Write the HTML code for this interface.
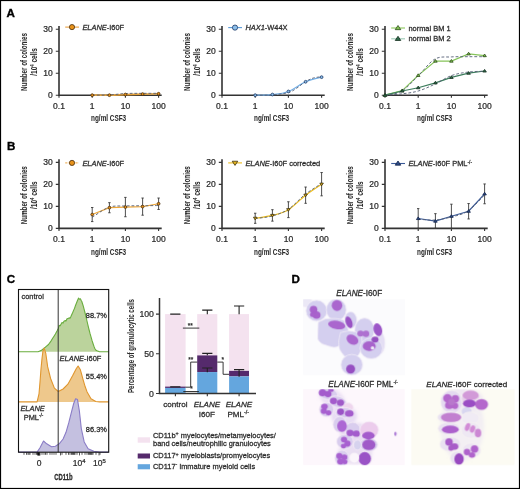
<!DOCTYPE html><html><head><meta charset="utf-8"><style>html,body{margin:0;padding:0;background:#fff}svg{display:block;will-change:transform}.t{font-family:"Liberation Sans", sans-serif;font-size:8.5px;fill:#2b2b2b;stroke:#2b2b2b;stroke-width:0.24px}.c{font-family:"Liberation Sans", sans-serif;font-size:8.9px;font-weight:bold;fill:#2b2b2b;stroke:#2b2b2b;stroke-width:0.05px}.l{font-family:"Liberation Sans", sans-serif;font-size:7.45px;fill:#2b2b2b;stroke:#2b2b2b;stroke-width:0.26px}.p{font-family:"Liberation Sans", sans-serif;font-size:11.6px;font-weight:bold;fill:#000;stroke:#000;stroke-width:0.35px}</style></head><body>
<svg width="520" height="489" viewBox="0 0 520 489">
<defs><filter id="bl" x="-20%" y="-20%" width="140%" height="140%"><feGaussianBlur stdDeviation="0.55"/></filter><filter id="bl2" x="-20%" y="-20%" width="140%" height="140%"><feGaussianBlur stdDeviation="1.4"/></filter></defs>
<rect x="0" y="0" width="520" height="489" fill="#fff"/>
<text x="6.6" y="16.9" class="p">A</text>
<text x="6.9" y="149.8" class="p">B</text>
<text x="6.8" y="283.3" class="p">C</text>
<text x="291.6" y="283.2" class="p">D</text>
<path d="M59,26 V95.2 H161.7" fill="none" stroke="#333333" stroke-width="1.6"/>
<path d="M55.8,95.2 H59 M55.8,73.2 H59 M55.8,51.2 H59 M55.8,29.2 H59 M59,95.2 V97.8 M92.2,95.2 V97.8 M125.4,95.2 V97.8 M158.6,95.2 V97.8 " stroke="#333333" stroke-width="1.1" fill="none"/>
<text x="52.8" y="97.9" text-anchor="end" class="t">0</text>
<text x="52.8" y="75.9" text-anchor="end" class="t">10</text>
<text x="52.8" y="53.9" text-anchor="end" class="t">20</text>
<text x="52.8" y="31.9" text-anchor="end" class="t">30</text>
<text x="59" y="109.2" text-anchor="middle" class="t">0.1</text>
<text x="92.2" y="109.2" text-anchor="middle" class="t">1</text>
<text x="125.4" y="109.2" text-anchor="middle" class="t">10</text>
<text x="158.6" y="109.2" text-anchor="middle" class="t">100</text>
<text x="108.6" y="121.4" text-anchor="middle" class="c" textLength="35" lengthAdjust="spacingAndGlyphs">ng/ml CSF3</text>
<text transform="translate(26.7,62) rotate(-90)" text-anchor="middle" class="c" textLength="58" lengthAdjust="spacingAndGlyphs">Number of colonies</text>
<text transform="translate(37.3,62) rotate(-90)" text-anchor="middle" class="c" textLength="27.5" lengthAdjust="spacingAndGlyphs"><tspan>/10</tspan><tspan dy="-2.9" font-size="5.8">4</tspan><tspan dy="2.9"> cells</tspan></text>
<path d="M59,159.2 V228.4 H161.7" fill="none" stroke="#333333" stroke-width="1.6"/>
<path d="M55.8,228.4 H59 M55.8,206.4 H59 M55.8,184.4 H59 M55.8,162.4 H59 M59,228.4 V231 M92.2,228.4 V231 M125.4,228.4 V231 M158.6,228.4 V231 " stroke="#333333" stroke-width="1.1" fill="none"/>
<text x="52.8" y="231.1" text-anchor="end" class="t">0</text>
<text x="52.8" y="209.1" text-anchor="end" class="t">10</text>
<text x="52.8" y="187.1" text-anchor="end" class="t">20</text>
<text x="52.8" y="165.1" text-anchor="end" class="t">30</text>
<text x="59" y="242.4" text-anchor="middle" class="t">0.1</text>
<text x="92.2" y="242.4" text-anchor="middle" class="t">1</text>
<text x="125.4" y="242.4" text-anchor="middle" class="t">10</text>
<text x="158.6" y="242.4" text-anchor="middle" class="t">100</text>
<text x="108.6" y="254.6" text-anchor="middle" class="c" textLength="35" lengthAdjust="spacingAndGlyphs">ng/ml CSF3</text>
<text transform="translate(26.7,195.2) rotate(-90)" text-anchor="middle" class="c" textLength="58" lengthAdjust="spacingAndGlyphs">Number of colonies</text>
<text transform="translate(37.3,195.2) rotate(-90)" text-anchor="middle" class="c" textLength="27.5" lengthAdjust="spacingAndGlyphs"><tspan>/10</tspan><tspan dy="-2.9" font-size="5.8">4</tspan><tspan dy="2.9"> cells</tspan></text>
<path d="M222,26 V95.2 H324.7" fill="none" stroke="#333333" stroke-width="1.6"/>
<path d="M218.8,95.2 H222 M218.8,73.2 H222 M218.8,51.2 H222 M218.8,29.2 H222 M222,95.2 V97.8 M255.2,95.2 V97.8 M288.4,95.2 V97.8 M321.6,95.2 V97.8 " stroke="#333333" stroke-width="1.1" fill="none"/>
<text x="215.8" y="97.9" text-anchor="end" class="t">0</text>
<text x="215.8" y="75.9" text-anchor="end" class="t">10</text>
<text x="215.8" y="53.9" text-anchor="end" class="t">20</text>
<text x="215.8" y="31.9" text-anchor="end" class="t">30</text>
<text x="222" y="109.2" text-anchor="middle" class="t">0.1</text>
<text x="255.2" y="109.2" text-anchor="middle" class="t">1</text>
<text x="288.4" y="109.2" text-anchor="middle" class="t">10</text>
<text x="321.6" y="109.2" text-anchor="middle" class="t">100</text>
<text x="271.6" y="121.4" text-anchor="middle" class="c" textLength="35" lengthAdjust="spacingAndGlyphs">ng/ml CSF3</text>
<text transform="translate(189.7,62) rotate(-90)" text-anchor="middle" class="c" textLength="58" lengthAdjust="spacingAndGlyphs">Number of colonies</text>
<text transform="translate(200.3,62) rotate(-90)" text-anchor="middle" class="c" textLength="27.5" lengthAdjust="spacingAndGlyphs"><tspan>/10</tspan><tspan dy="-2.9" font-size="5.8">4</tspan><tspan dy="2.9"> cells</tspan></text>
<path d="M222,159.2 V228.4 H324.7" fill="none" stroke="#333333" stroke-width="1.6"/>
<path d="M218.8,228.4 H222 M218.8,206.4 H222 M218.8,184.4 H222 M218.8,162.4 H222 M222,228.4 V231 M255.2,228.4 V231 M288.4,228.4 V231 M321.6,228.4 V231 " stroke="#333333" stroke-width="1.1" fill="none"/>
<text x="215.8" y="231.1" text-anchor="end" class="t">0</text>
<text x="215.8" y="209.1" text-anchor="end" class="t">10</text>
<text x="215.8" y="187.1" text-anchor="end" class="t">20</text>
<text x="215.8" y="165.1" text-anchor="end" class="t">30</text>
<text x="222" y="242.4" text-anchor="middle" class="t">0.1</text>
<text x="255.2" y="242.4" text-anchor="middle" class="t">1</text>
<text x="288.4" y="242.4" text-anchor="middle" class="t">10</text>
<text x="321.6" y="242.4" text-anchor="middle" class="t">100</text>
<text x="271.6" y="254.6" text-anchor="middle" class="c" textLength="35" lengthAdjust="spacingAndGlyphs">ng/ml CSF3</text>
<text transform="translate(189.7,195.2) rotate(-90)" text-anchor="middle" class="c" textLength="58" lengthAdjust="spacingAndGlyphs">Number of colonies</text>
<text transform="translate(200.3,195.2) rotate(-90)" text-anchor="middle" class="c" textLength="27.5" lengthAdjust="spacingAndGlyphs"><tspan>/10</tspan><tspan dy="-2.9" font-size="5.8">4</tspan><tspan dy="2.9"> cells</tspan></text>
<path d="M385,26 V95.2 H487.7" fill="none" stroke="#333333" stroke-width="1.6"/>
<path d="M381.8,95.2 H385 M381.8,73.2 H385 M381.8,51.2 H385 M381.8,29.2 H385 M385,95.2 V97.8 M418.2,95.2 V97.8 M451.4,95.2 V97.8 M484.6,95.2 V97.8 " stroke="#333333" stroke-width="1.1" fill="none"/>
<text x="378.8" y="97.9" text-anchor="end" class="t">0</text>
<text x="378.8" y="75.9" text-anchor="end" class="t">10</text>
<text x="378.8" y="53.9" text-anchor="end" class="t">20</text>
<text x="378.8" y="31.9" text-anchor="end" class="t">30</text>
<text x="385" y="109.2" text-anchor="middle" class="t">0.1</text>
<text x="418.2" y="109.2" text-anchor="middle" class="t">1</text>
<text x="451.4" y="109.2" text-anchor="middle" class="t">10</text>
<text x="484.6" y="109.2" text-anchor="middle" class="t">100</text>
<text x="434.6" y="121.4" text-anchor="middle" class="c" textLength="35" lengthAdjust="spacingAndGlyphs">ng/ml CSF3</text>
<text transform="translate(352.7,62) rotate(-90)" text-anchor="middle" class="c" textLength="58" lengthAdjust="spacingAndGlyphs">Number of colonies</text>
<text transform="translate(363.3,62) rotate(-90)" text-anchor="middle" class="c" textLength="27.5" lengthAdjust="spacingAndGlyphs"><tspan>/10</tspan><tspan dy="-2.9" font-size="5.8">4</tspan><tspan dy="2.9"> cells</tspan></text>
<path d="M385,159.2 V228.4 H487.7" fill="none" stroke="#333333" stroke-width="1.6"/>
<path d="M381.8,228.4 H385 M381.8,206.4 H385 M381.8,184.4 H385 M381.8,162.4 H385 M385,228.4 V231 M418.2,228.4 V231 M451.4,228.4 V231 M484.6,228.4 V231 " stroke="#333333" stroke-width="1.1" fill="none"/>
<text x="378.8" y="231.1" text-anchor="end" class="t">0</text>
<text x="378.8" y="209.1" text-anchor="end" class="t">10</text>
<text x="378.8" y="187.1" text-anchor="end" class="t">20</text>
<text x="378.8" y="165.1" text-anchor="end" class="t">30</text>
<text x="385" y="242.4" text-anchor="middle" class="t">0.1</text>
<text x="418.2" y="242.4" text-anchor="middle" class="t">1</text>
<text x="451.4" y="242.4" text-anchor="middle" class="t">10</text>
<text x="484.6" y="242.4" text-anchor="middle" class="t">100</text>
<text x="434.6" y="254.6" text-anchor="middle" class="c" textLength="35" lengthAdjust="spacingAndGlyphs">ng/ml CSF3</text>
<text transform="translate(352.7,195.2) rotate(-90)" text-anchor="middle" class="c" textLength="58" lengthAdjust="spacingAndGlyphs">Number of colonies</text>
<text transform="translate(363.3,195.2) rotate(-90)" text-anchor="middle" class="c" textLength="27.5" lengthAdjust="spacingAndGlyphs"><tspan>/10</tspan><tspan dy="-2.9" font-size="5.8">4</tspan><tspan dy="2.9"> cells</tspan></text>
<path d="M92.2,95.2 C95.07,95.2 103.88,95.31 109.41,95.2 C114.95,95.09 119.87,94.72 125.4,94.54 C130.93,94.36 137.08,94.23 142.61,94.1 C148.15,93.97 155.94,93.83 158.6,93.77" fill="none" stroke="#e3a03a" stroke-width="1.7"/>
<path d="M92.2,95.2 C94.96,95.16 103.26,95.26 108.79,94.98 C114.32,94.7 119.87,93.83 125.4,93.55 C130.93,93.27 136.46,93.37 141.99,93.33 C147.52,93.29 155.83,93.33 158.6,93.33" fill="none" stroke="#555f75" stroke-width="0.9" stroke-dasharray="2.8,1.9"/>
<circle cx="92.2" cy="95.2" r="1.4" fill="#e8921a" stroke="#4a3010" stroke-width="0.8"/>
<circle cx="109.41" cy="95.2" r="1.4" fill="#e8921a" stroke="#4a3010" stroke-width="0.8"/>
<circle cx="125.4" cy="94.54" r="1.4" fill="#e8921a" stroke="#4a3010" stroke-width="0.8"/>
<circle cx="142.61" cy="94.1" r="1.4" fill="#e8921a" stroke="#4a3010" stroke-width="0.8"/>
<circle cx="158.6" cy="93.77" r="1.4" fill="#e8921a" stroke="#4a3010" stroke-width="0.8"/>
<line x1="65.2" x2="79" y1="27.1" y2="27.1" stroke="#e8a040" stroke-width="1.1"/>
<circle cx="72" cy="27.1" r="2.6" fill="#e8921a" stroke="#4a3010" stroke-width="0.8"/>
<text x="82.4" y="29.7" class="l"><tspan font-style="italic">ELANE</tspan>-I60F</text>
<path d="M255.2,95.2 C258.07,95.09 266.88,95.16 272.41,94.54 C277.95,93.92 282.87,93.59 288.4,91.46 C293.93,89.33 300.08,84.16 305.61,81.78 C311.15,79.4 318.94,77.93 321.6,77.16" fill="none" stroke="#72aee6" stroke-width="1.2"/>
<path d="M255.2,95.2 C257.96,95.16 266.26,95.42 271.79,94.98 C277.32,94.54 284.25,93.7 288.4,92.56 C292.55,91.42 293.95,89.92 296.71,88.16 C299.48,86.4 302.24,83.69 304.99,82 C307.74,80.31 310.47,78.92 313.24,78.04 C316.01,77.16 320.21,76.94 321.6,76.72" fill="none" stroke="#555f75" stroke-width="0.9" stroke-dasharray="2.8,1.9"/>
<circle cx="255.2" cy="95.2" r="1.4" fill="#8cbfea" stroke="#1f3a66" stroke-width="0.8"/>
<circle cx="272.41" cy="94.54" r="1.4" fill="#8cbfea" stroke="#1f3a66" stroke-width="0.8"/>
<circle cx="288.4" cy="91.46" r="1.4" fill="#8cbfea" stroke="#1f3a66" stroke-width="0.8"/>
<circle cx="305.61" cy="81.78" r="1.4" fill="#8cbfea" stroke="#1f3a66" stroke-width="0.8"/>
<circle cx="321.6" cy="77.16" r="1.4" fill="#8cbfea" stroke="#1f3a66" stroke-width="0.8"/>
<line x1="228.2" x2="242" y1="27.6" y2="27.6" stroke="#5a9ad8" stroke-width="1.1"/>
<circle cx="235" cy="27.6" r="2.6" fill="#8cbfea" stroke="#1f3a66" stroke-width="0.8"/>
<text x="245.4" y="30.2" class="l"><tspan font-style="italic">HAX1</tspan>-W44X</text>
<path d="M385,95.2 L402.21,90.58 L418.2,75.4 L435.41,61.1 L451.4,61.1 L468.61,53.84 L484.6,55.6" fill="none" stroke="#86c45a" stroke-width="1.2"/>
<path d="M385,95.2 C387.76,94.54 396.06,94.47 401.59,91.24 C407.12,88.01 412.67,81.19 418.2,75.84 C423.73,70.49 429.26,62.27 434.79,59.12 C440.32,55.97 445.87,57.32 451.4,56.92 C456.93,56.52 462.46,56.74 467.99,56.7 C473.52,56.66 481.83,56.7 484.6,56.7" fill="none" stroke="#555f75" stroke-width="0.9" stroke-dasharray="2.8,1.9"/>
<path d="M385,93.6 L386.77,96.26 L383.23,96.26Z" fill="#86c456" stroke="#2a4a18" stroke-width="0.8"/>
<path d="M402.21,88.98 L403.99,91.64 L400.44,91.64Z" fill="#86c456" stroke="#2a4a18" stroke-width="0.8"/>
<path d="M418.2,73.8 L419.97,76.46 L416.43,76.46Z" fill="#86c456" stroke="#2a4a18" stroke-width="0.8"/>
<path d="M435.41,59.5 L437.19,62.16 L433.64,62.16Z" fill="#86c456" stroke="#2a4a18" stroke-width="0.8"/>
<path d="M451.4,59.5 L453.17,62.16 L449.63,62.16Z" fill="#86c456" stroke="#2a4a18" stroke-width="0.8"/>
<path d="M468.61,52.24 L470.39,54.9 L466.84,54.9Z" fill="#86c456" stroke="#2a4a18" stroke-width="0.8"/>
<path d="M484.6,54 L486.37,56.66 L482.83,56.66Z" fill="#86c456" stroke="#2a4a18" stroke-width="0.8"/>
<path d="M385,95.2 L402.21,91.02 L418.2,87.72 L435.41,82.88 L451.4,77.38 L468.61,73.2 L484.6,71" fill="none" stroke="#3c7c5c" stroke-width="1.2"/>
<path d="M385,95.2 C387.76,94.98 396.06,94.58 401.59,93.88 C407.12,93.18 412.67,92.63 418.2,91.02 C423.73,89.41 429.26,86.77 434.79,84.2 C440.32,81.63 445.87,77.64 451.4,75.62 C456.93,73.6 462.46,72.83 467.99,72.1 C473.52,71.37 481.83,71.37 484.6,71.22" fill="none" stroke="#555f75" stroke-width="0.9" stroke-dasharray="2.8,1.9"/>
<path d="M385,93.6 L386.77,96.26 L383.23,96.26Z" fill="#2f6b4a" stroke="#15301f" stroke-width="0.8"/>
<path d="M402.21,89.42 L403.99,92.08 L400.44,92.08Z" fill="#2f6b4a" stroke="#15301f" stroke-width="0.8"/>
<path d="M418.2,86.12 L419.97,88.78 L416.43,88.78Z" fill="#2f6b4a" stroke="#15301f" stroke-width="0.8"/>
<path d="M435.41,81.28 L437.19,83.94 L433.64,83.94Z" fill="#2f6b4a" stroke="#15301f" stroke-width="0.8"/>
<path d="M451.4,75.78 L453.17,78.44 L449.63,78.44Z" fill="#2f6b4a" stroke="#15301f" stroke-width="0.8"/>
<path d="M468.61,71.6 L470.39,74.26 L466.84,74.26Z" fill="#2f6b4a" stroke="#15301f" stroke-width="0.8"/>
<path d="M484.6,69.4 L486.37,72.06 L482.83,72.06Z" fill="#2f6b4a" stroke="#15301f" stroke-width="0.8"/>
<line x1="391.2" x2="405" y1="28" y2="28" stroke="#8bc75a" stroke-width="1.1"/>
<path d="M398,25.49 L400.78,29.67 L395.22,29.67Z" fill="#86c456" stroke="#2a4a18" stroke-width="0.8"/>
<text x="408.4" y="30.6" class="l">normal BM 1</text>
<line x1="391.2" x2="405" y1="38.8" y2="38.8" stroke="#9cc8b5" stroke-width="1.1"/>
<path d="M398,36.29 L400.78,40.47 L395.22,40.47Z" fill="#2f6b4a" stroke="#15301f" stroke-width="0.8"/>
<text x="408.4" y="41.4" class="l">normal BM 2</text>
<path d="M92.2,207.5 V221.58 M91,207.5 H93.4 M91,221.58 H93.4 M109.41,202.66 V212.78 M108.21,202.66 H110.61 M108.21,212.78 H110.61 M125.4,197.38 V216.74 M124.2,197.38 H126.6 M124.2,216.74 H126.6 M142.61,198.04 V215.2 M141.41,198.04 H143.81 M141.41,215.2 H143.81 M158.6,198.04 V209.48 M157.4,198.04 H159.8 M157.4,209.48 H159.8 " stroke="#3a3a3a" stroke-width="0.9" fill="none"/>
<path d="M92.2,214.54 L109.41,207.72 L125.4,207.06 L142.61,206.62 L158.6,203.76" fill="none" stroke="#eea83c" stroke-width="1.2"/>
<path d="M92.2,217.4 C94.96,215.71 103.26,209.19 108.79,207.28 C114.32,205.37 119.87,206.22 125.4,205.96 C130.93,205.7 136.46,205.81 141.99,205.74 C147.52,205.67 155.83,205.56 158.6,205.52" fill="none" stroke="#555f75" stroke-width="0.9" stroke-dasharray="2.8,1.9"/>
<circle cx="92.2" cy="214.54" r="1.4" fill="#e8921a" stroke="#4a3010" stroke-width="0.8"/>
<circle cx="109.41" cy="207.72" r="1.4" fill="#e8921a" stroke="#4a3010" stroke-width="0.8"/>
<circle cx="125.4" cy="207.06" r="1.4" fill="#e8921a" stroke="#4a3010" stroke-width="0.8"/>
<circle cx="142.61" cy="206.62" r="1.4" fill="#e8921a" stroke="#4a3010" stroke-width="0.8"/>
<circle cx="158.6" cy="203.76" r="1.4" fill="#e8921a" stroke="#4a3010" stroke-width="0.8"/>
<line x1="65.2" x2="79" y1="162.9" y2="162.9" stroke="#f0b86a" stroke-width="1.1" stroke-dasharray="2.2,1.2"/>
<circle cx="72" cy="162.9" r="2.6" fill="#e8921a" stroke="#4a3010" stroke-width="0.8"/>
<text x="82.4" y="165.5" class="l"><tspan font-style="italic">ELANE</tspan>-I60F</text>
<path d="M255.2,213.22 V223.34 M254,213.22 H256.4 M254,223.34 H256.4 M272.41,209.7 V221.14 M271.21,209.7 H273.61 M271.21,221.14 H273.61 M288.4,201.78 V217.62 M287.2,201.78 H289.6 M287.2,217.62 H289.6 M305.61,187.04 V203.32 M304.41,187.04 H306.81 M304.41,203.32 H306.81 M321.6,172.52 V195.84 M320.4,172.52 H322.8 M320.4,195.84 H322.8 " stroke="#3a3a3a" stroke-width="0.9" fill="none"/>
<path d="M255.2,218.28 C258.07,217.8 266.88,216.85 272.41,215.42 C277.95,213.99 282.87,213.07 288.4,209.7 C293.93,206.33 300.08,199.43 305.61,195.18 C311.15,190.93 318.94,186.01 321.6,184.18" fill="none" stroke="#ecbc1c" stroke-width="1.2"/>
<path d="M255.2,218.5 C257.96,218.1 266.26,217.62 271.79,216.08 C277.32,214.54 282.87,212.85 288.4,209.26 C293.93,205.67 299.46,198.81 304.99,194.52 C310.52,190.23 318.83,185.35 321.6,183.52" fill="none" stroke="#555f75" stroke-width="0.9" stroke-dasharray="2.8,1.9"/>
<path d="M255.2,219.88 L256.97,217.22 L253.43,217.22Z" fill="#e6b41c" stroke="#3a3010" stroke-width="0.8"/>
<path d="M272.41,217.02 L274.19,214.36 L270.64,214.36Z" fill="#e6b41c" stroke="#3a3010" stroke-width="0.8"/>
<path d="M288.4,211.3 L290.17,208.64 L286.63,208.64Z" fill="#e6b41c" stroke="#3a3010" stroke-width="0.8"/>
<path d="M305.61,196.78 L307.39,194.12 L303.84,194.12Z" fill="#e6b41c" stroke="#3a3010" stroke-width="0.8"/>
<path d="M321.6,185.78 L323.37,183.12 L319.83,183.12Z" fill="#e6b41c" stroke="#3a3010" stroke-width="0.8"/>
<line x1="228.2" x2="242" y1="162.9" y2="162.9" stroke="#ecbc1c" stroke-width="1.1"/>
<path d="M235,165.41 L237.78,161.23 L232.22,161.23Z" fill="#e6b41c" stroke="#3a3010" stroke-width="0.8"/>
<text x="245.4" y="165.5" class="l"><tspan font-style="italic">ELANE</tspan>-I60F corrected</text>
<path d="M418.2,208.6 V228.4 M417,208.6 H419.4 M417,228.4 H419.4 M435.41,213.66 V228.4 M434.21,213.66 H436.61 M434.21,228.4 H436.61 M451.4,204.2 V228.4 M450.2,204.2 H452.6 M450.2,228.4 H452.6 M468.61,203.54 V218.94 M467.41,203.54 H469.81 M467.41,218.94 H469.81 M484.6,183.96 V203.76 M483.4,183.96 H485.8 M483.4,203.76 H485.8 " stroke="#3a3a3a" stroke-width="0.9" fill="none"/>
<path d="M418.2,218.5 L435.41,221.14 L451.4,216.3 L468.61,211.24 L484.6,193.86" fill="none" stroke="#3a5a98" stroke-width="1.2"/>
<path d="M418.2,219.16 C420.96,219.31 429.26,220.41 434.79,220.04 C440.32,219.67 445.87,218.46 451.4,216.96 C456.93,215.46 462.46,214.69 467.99,211.02 C473.52,207.35 481.83,197.64 484.6,194.96" fill="none" stroke="#555f75" stroke-width="0.9" stroke-dasharray="2.8,1.9"/>
<path d="M418.2,216.9 L419.97,219.56 L416.43,219.56Z" fill="#2c4a86" stroke="#14244a" stroke-width="0.8"/>
<path d="M435.41,219.54 L437.19,222.2 L433.64,222.2Z" fill="#2c4a86" stroke="#14244a" stroke-width="0.8"/>
<path d="M451.4,214.7 L453.17,217.36 L449.63,217.36Z" fill="#2c4a86" stroke="#14244a" stroke-width="0.8"/>
<path d="M468.61,209.64 L470.39,212.3 L466.84,212.3Z" fill="#2c4a86" stroke="#14244a" stroke-width="0.8"/>
<path d="M484.6,192.26 L486.37,194.92 L482.83,194.92Z" fill="#2c4a86" stroke="#14244a" stroke-width="0.8"/>
<line x1="391.2" x2="405" y1="163.5" y2="163.5" stroke="#3a5a98" stroke-width="1.1"/>
<path d="M398,160.99 L400.78,165.17 L395.22,165.17Z" fill="#2c4a86" stroke="#14244a" stroke-width="0.8"/>
<text x="408.4" y="166.1" class="l"><tspan font-style="italic">ELANE</tspan>-I60F PML<tspan dy="-2.6" font-size="4.8">-/-</tspan></text>
<path d="M18.5,351.7 L38.1,351.7 L41,350.6 L43.8,348.5 L46,346.6 L48.5,344.5 L50.6,341.7 L52.5,338.5 L54,336.2 L55.4,334 L57,331 L58.3,328.4 L59.2,325.4 L60.2,325.8 L61,324.2 L62,322.5 L63,323.1 L64,321.2 L65,320.6 L66,320.9 L67,318.8 L68,318.6 L69,317.9 L70,318.2 L70.8,316.7 L71.8,314.5 L72.5,313 L73.5,310.6 L74.6,308.1 L75.4,305.8 L76.5,303 L77.5,300.5 L78.5,298.1 L79.3,299.2 L80.4,298.8 L81.2,300.5 L81.8,301.5 L82.6,304 L83.3,306.2 L84.2,309.6 L85.2,313.5 L86.2,317.6 L87.1,321.5 L88,325.4 L89,329.5 L90,333.4 L91,336.9 L92,340.4 L93,343.5 L94,346.4 L94.8,348.5 L96,350.2 L97,350.8 L99.6,351.7 L108.7,351.7 Z" fill="#bbd39c" stroke="none"/>
<path d="M18.5,351.7 L38.1,351.7 L41,350.6 L43.8,348.5 L46,346.6 L48.5,344.5 L50.6,341.7 L52.5,338.5 L54,336.2 L55.4,334 L57,331 L58.3,328.4 L59.2,325.4 L60.2,325.8 L61,324.2 L62,322.5 L63,323.1 L64,321.2 L65,320.6 L66,320.9 L67,318.8 L68,318.6 L69,317.9 L70,318.2 L70.8,316.7 L71.8,314.5 L72.5,313 L73.5,310.6 L74.6,308.1 L75.4,305.8 L76.5,303 L77.5,300.5 L78.5,298.1 L79.3,299.2 L80.4,298.8 L81.2,300.5 L81.8,301.5 L82.6,304 L83.3,306.2 L84.2,309.6 L85.2,313.5 L86.2,317.6 L87.1,321.5 L88,325.4 L89,329.5 L90,333.4 L91,336.9 L92,340.4 L93,343.5 L94,346.4 L94.8,348.5 L96,350.2 L97,350.8 L99.6,351.7 L108.7,351.7" fill="none" stroke="#69ad3e" stroke-width="1.1" stroke-linejoin="round"/>
<path d="M18.5,401.9 L37.1,401.9 L39,393.8 L40,382 L41,368.8 L42,358.5 L42.9,351.5 L44.2,348.1 L45.8,353.5 L47.7,366.9 L50.6,378.5 L54.4,388.1 L58.3,391.5 L63.1,389 L67.9,384.2 L72.7,375.6 L76.2,368.8 L78.1,366 L80.4,369.8 L83.3,380.4 L85.2,386.8 L87.1,391.9 L91,398.7 L95.8,401.5 L99.6,401.9 L108.7,401.9 Z" fill="#eec88c" stroke="none"/>
<path d="M18.5,401.9 L37.1,401.9 L39,393.8 L40,382 L41,368.8 L42,358.5 L42.9,351.5 L44.2,348.1 L45.8,353.5 L47.7,366.9 L50.6,378.5 L54.4,388.1 L58.3,391.5 L63.1,389 L67.9,384.2 L72.7,375.6 L76.2,368.8 L78.1,366 L80.4,369.8 L83.3,380.4 L85.2,386.8 L87.1,391.9 L91,398.7 L95.8,401.5 L99.6,401.9 L108.7,401.9" fill="none" stroke="#e0962e" stroke-width="1.1" stroke-linejoin="round"/>
<path d="M18.5,452.1 L37.1,452.1 L40,447.7 L43.5,441 L46.7,443.8 L51.5,446.7 L55.4,446.2 L59.2,443.8 L63.1,439 L66,432.3 L68.8,422.7 L71.7,411.2 L73.7,403.5 L75.6,398.7 L77.5,399.6 L79.4,411.2 L81.3,428.5 L84.2,441.9 L88.1,448.7 L93.8,451.2 L99.6,452.1 L108.7,452.1 Z" fill="#c4c0e0" stroke="none"/>
<path d="M18.5,452.1 L37.1,452.1 L40,447.7 L43.5,441 L46.7,443.8 L51.5,446.7 L55.4,446.2 L59.2,443.8 L63.1,439 L66,432.3 L68.8,422.7 L71.7,411.2 L73.7,403.5 L75.6,398.7 L77.5,399.6 L79.4,411.2 L81.3,428.5 L84.2,441.9 L88.1,448.7 L93.8,451.2 L99.6,452.1 L108.7,452.1" fill="none" stroke="#8a7cc6" stroke-width="1.1" stroke-linejoin="round"/>
<line x1="58.2" x2="58.2" y1="289.5" y2="452.2" stroke="#333" stroke-width="1"/>
<rect x="18.5" y="289.5" width="90.2" height="162.7" fill="none" stroke="#111" stroke-width="1.1"/>
<text x="21.5" y="298.5" class="l">control</text>
<text x="106.9" y="317.5" class="l" text-anchor="end">88.7%</text>
<text x="59.6" y="361" class="l"><tspan font-style="italic">ELANE</tspan>-I60F</text>
<text x="106.9" y="379.2" class="l" text-anchor="end">55.4%</text>
<text x="20.4" y="410.6" class="l" font-style="italic">ELANE</text>
<text x="23.7" y="419.6" class="l">PML<tspan dy="-2.8" font-size="4.6">-/-</tspan></text>
<text x="106.9" y="432.1" class="l" text-anchor="end">86.3%</text>
<path d="M24,452.2 V454.8 M26.5,452.2 V454.8 M28,452.2 V454.8 M29,452.2 V454.8 M30,452.2 V454.8 M33,452.2 V454.8 M35,452.2 V454.8 M36.5,452.2 V454.8 M37.5,452.2 V454.8 M42,452.2 V454.8 M44,452.2 V454.8 M45.5,452.2 V454.8 M47,452.2 V454.8 M50,452.2 V454.8 M52,452.2 V454.8 M54,452.2 V454.8 M56,452.2 V454.8 M62,452.2 V454.8 M66,452.2 V454.8 M68.5,452.2 V454.8 M70,452.2 V454.8 M71.5,452.2 V454.8 M72.5,452.2 V454.8 M73.5,452.2 V454.8 M74.3,452.2 V454.8 M75,452.2 V454.8 M77,452.2 V454.8 M82,452.2 V454.8 M85,452.2 V454.8 M87,452.2 V454.8 M88.5,452.2 V454.8 M89.5,452.2 V454.8 M90.5,452.2 V454.8 M91.3,452.2 V454.8 M92,452.2 V454.8 M93,452.2 V454.8 M96,452.2 V454.8 M100,452.2 V454.8 M40,452.2 V455.4 M60.5,452.2 V455.4 M79.5,452.2 V455.4 M99,452.2 V455.4 " stroke="#222" stroke-width="0.75"/>
<rect x="37.4" y="452.2" width="2.4" height="3.4" fill="#111"/>
<text x="39.2" y="466.3" class="t" text-anchor="middle">0</text>
<text x="72.7" y="466.3" class="t">10<tspan dy="-3.2" font-size="5.9">4</tspan></text>
<text x="93" y="466.3" class="t">10<tspan dy="-3.2" font-size="5.9">5</tspan></text>
<text x="63.5" y="479.6" class="c" style="font-size:9.4px;stroke-width:0.3px" text-anchor="middle" textLength="18.4" lengthAdjust="spacingAndGlyphs">CD11b</text>
<rect x="165.1" y="314.1" width="20.5" height="72.49" fill="#f4e2ef"/>
<rect x="165.1" y="386.59" width="20.5" height="1.35" fill="#552a6c"/>
<rect x="165.1" y="387.94" width="20.5" height="5.56" fill="#64a6de"/>
<rect x="197.2" y="314.1" width="20.1" height="41.29" fill="#f4e2ef"/>
<rect x="197.2" y="355.39" width="20.1" height="16.67" fill="#552a6c"/>
<rect x="197.2" y="372.06" width="20.1" height="21.44" fill="#64a6de"/>
<rect x="229.1" y="314.1" width="19.9" height="56.77" fill="#f4e2ef"/>
<rect x="229.1" y="370.87" width="19.9" height="5.56" fill="#552a6c"/>
<rect x="229.1" y="376.43" width="19.9" height="17.07" fill="#64a6de"/>
<path d="M170.2,314.1 H180.4 M170.2,386.9 H180.4 M207.3,314.3 V310.1 M202.2,310.1 H212.4 M207.3,355.3 V353.4 M202.2,353.4 H212.4 M207.3,372.3 V368 M202.2,368 H212.4 M239.1,314.3 V306 M234,306 H244.2 M239.1,376.7 V369.6 M234,369.6 H244.2 " stroke="#222" stroke-width="1.1" fill="none"/>
<path d="M182.9,328.1 H199.3 M185.5,387.2 H190.7 V362.1 H197.3 M183.3,391.5 H198.9 M217.3,362.1 H223.1 V374.3 H229.1 " stroke="#222" stroke-width="0.9" fill="none"/>
<text x="190.3" y="327.6" class="t" style="font-size:6.5px" text-anchor="middle">**</text>
<text x="190.7" y="361.6" class="t" style="font-size:6.5px" text-anchor="middle">**</text>
<text x="191.6" y="391.3" class="t" style="font-size:6.5px" text-anchor="middle">*</text>
<text x="222.8" y="361.6" class="t" style="font-size:6.5px" text-anchor="middle">*</text>
<path d="M159.5,297.9 V393.5 H256" fill="none" stroke="#333333" stroke-width="1.5"/>
<path d="M156,393.5 H159.5 M156,353.8 H159.5 M156,314.1 H159.5 M175.4,393.5 V396.3 M207.3,393.5 V396.3 M239.1,393.5 V396.3 " stroke="#333333" stroke-width="1.1"/>
<text x="153.9" y="396.5" class="t" style="font-size:8.7px" text-anchor="end">0</text>
<text x="153.9" y="356.8" class="t" style="font-size:8.7px" text-anchor="end">50</text>
<text x="153.9" y="317.1" class="t" style="font-size:8.7px" text-anchor="end">100</text>
<text transform="translate(134.3,346) rotate(-90)" class="c" text-anchor="middle" textLength="94" lengthAdjust="spacingAndGlyphs">Percentage of granulocytic cells</text>
<text x="175.4" y="407.4" class="l" style="font-size:8.1px" text-anchor="middle">control</text>
<text x="206.9" y="407.1" class="l" style="font-size:8.1px" text-anchor="middle" font-style="italic">ELANE</text>
<text x="206.8" y="416.5" class="l" style="font-size:8.1px" text-anchor="middle">I60F</text>
<text x="239" y="407.1" class="l" style="font-size:8.1px" text-anchor="middle" font-style="italic">ELANE</text>
<text x="238.3" y="416.5" class="l" style="font-size:8.1px" text-anchor="middle">PML<tspan dy="-3" font-size="5.4">-/-</tspan></text>
<rect x="137.7" y="437.3" width="12.3" height="5.4" fill="#f4e2ef"/>
<rect x="137.7" y="453.5" width="12.3" height="5" fill="#552a6c"/>
<rect x="137.7" y="464.2" width="12.3" height="5.1" fill="#64a6de"/>
<text x="153" y="437.7" class="l">CD11b<tspan dy="-2.8" font-size="5.4">+</tspan><tspan dy="2.8"> myelocytes/metamyelocytes/</tspan></text>
<text x="153" y="446.3" class="l">band cells/neutrophilic granulocytes</text>
<text x="153" y="458.4" class="l">CD117<tspan dy="-2.8" font-size="5.4">+</tspan><tspan dy="2.8"> myeloblasts/promyelocytes</tspan></text>
<text x="153" y="469.2" class="l">CD117<tspan dy="-2.8" font-size="5.4">-</tspan><tspan dy="2.8"> immature myeloid cells</tspan></text>
<text x="359.2" y="296.4" class="l" style="font-size:8.2px" text-anchor="middle"><tspan font-style="italic">ELANE</tspan>-I60F</text>
<text x="363" y="386.7" class="l" style="font-size:8.2px" text-anchor="middle"><tspan font-style="italic">ELANE</tspan>-I60F PML<tspan dy="-2.8" font-size="4.6">-/-</tspan></text>
<text x="466.8" y="387" class="l" style="font-size:8.05px" text-anchor="middle"><tspan font-style="italic">ELANE</tspan>-I60F corrected</text>
<svg x="303.2" y="299.3" width="101.8" height="75.9" viewBox="0 0 101.8 75.9" overflow="hidden">
<rect width="101.8" height="75.9" fill="#fbfbfd"/>
<g transform="translate(-303.2,-299.3)">
<g filter="url(#bl)">
<ellipse cx="306" cy="302" rx="6" ry="5" fill="#ebe8f6" stroke="#f2eef8" stroke-width="0.8" transform="rotate(0 306 302)"/>
<ellipse cx="316.5" cy="310.7" rx="10.5" ry="10.5" fill="#d4cfef" stroke="#f2eef8" stroke-width="0.8" transform="rotate(0 316.5 310.7)"/>
<ellipse cx="336.3" cy="309.8" rx="10" ry="10.8" fill="#d4cfef" stroke="#f2eef8" stroke-width="0.8" transform="rotate(0 336.3 309.8)"/>
<path d="M318.2,322.2 C318.84,321.92 324.42,319.11 325.9,318.8 C327.38,318.49 334.44,318.33 336,318.5 C337.56,318.67 343.56,319.77 344.6,320.8 C345.64,321.83 348.47,329.47 348.5,330.9 C348.53,332.33 345.81,336.76 345,338 C344.19,339.24 339.72,345.02 338.8,345.8 C337.88,346.58 335.36,347.55 334,347.4 C332.64,347.25 323.85,344.7 322.5,344 C321.15,343.3 318.16,340.82 317.8,339 C317.44,337.18 318.17,323.6 318.2,322.2Z" fill="#d4cfef" stroke="#f2eef8" stroke-width="0.8"/>
<ellipse cx="350.6" cy="320.2" rx="6.2" ry="8.4" fill="#d4cfef" stroke="#f2eef8" stroke-width="0.8" transform="rotate(0 350.6 320.2)"/>
<ellipse cx="364.5" cy="330" rx="9.8" ry="12" fill="#d4cfef" stroke="#f2eef8" stroke-width="0.8" transform="rotate(0 364.5 330)"/>
<ellipse cx="380" cy="343" rx="5" ry="11" fill="#e4def4" stroke="#f2eef8" stroke-width="0.8" transform="rotate(0 380 343)"/>
<path d="M340.5,332.5 C341.17,332.38 347.21,331.04 348.5,331 C349.79,330.96 354.92,331.5 356,332 C357.08,332.5 361,335.67 361.5,337 C362,338.33 362.38,346.38 362,348 C361.62,349.62 358.42,355.79 357,356.5 C355.58,357.21 346.46,357.12 345,356.5 C343.54,355.88 340.02,350.29 339.5,349 C338.98,347.71 338.72,342.38 338.8,341 C338.88,339.62 340.36,333.21 340.5,332.5Z" fill="#d4cfef" stroke="#f2eef8" stroke-width="0.8"/>
<ellipse cx="371.3" cy="348.4" rx="11.3" ry="10.4" fill="#d4cfef" stroke="#f2eef8" stroke-width="0.8" transform="rotate(0 371.3 348.4)"/>
<ellipse cx="351.8" cy="364.8" rx="10.8" ry="10.4" fill="#d4cfef" stroke="#f2eef8" stroke-width="0.8" transform="rotate(0 351.8 364.8)"/>
</g><g filter="url(#bl)">
<ellipse cx="313.5" cy="309.5" rx="3.8" ry="3.8" fill="#a862cc" transform="rotate(0 313.5 309.5)"/>
<ellipse cx="316.5" cy="315" rx="4" ry="3.8" fill="#a862cc" transform="rotate(0 316.5 315)"/>
<ellipse cx="312.5" cy="314.5" rx="2.5" ry="2.5" fill="#a862cc" transform="rotate(0 312.5 314.5)"/>
<ellipse cx="337" cy="305.5" rx="5.3" ry="5.5" fill="#aa66ce" transform="rotate(0 337 305.5)"/>
<ellipse cx="336.7" cy="325" rx="8.7" ry="4.2" fill="#aa66ce" transform="rotate(10 336.7 325)"/>
<ellipse cx="349" cy="322.3" rx="3.2" ry="6" fill="#9a52c4" transform="rotate(-20 349 322.3)"/>
<ellipse cx="360.5" cy="333.5" rx="3.2" ry="3" fill="#ae70d0" transform="rotate(0 360.5 333.5)"/>
<ellipse cx="366" cy="333.8" rx="3.2" ry="3.2" fill="#ae70d0" transform="rotate(0 366 333.8)"/>
<ellipse cx="377.8" cy="329.7" rx="4.2" ry="6.5" fill="#9c56c8" transform="rotate(-15 377.8 329.7)"/>
<ellipse cx="375" cy="339.5" rx="3.5" ry="3" fill="#9550c0" transform="rotate(0 375 339.5)"/>
<ellipse cx="352.4" cy="339.7" rx="6.3" ry="4.6" fill="#aa66ce" transform="rotate(30 352.4 339.7)"/>
<ellipse cx="369.2" cy="346.2" rx="6.5" ry="4.8" fill="#a864cc" transform="rotate(0 369.2 346.2)"/>
<ellipse cx="350.6" cy="369.1" rx="4.5" ry="4.5" fill="#9650c2" transform="rotate(0 350.6 369.1)"/>
</g><ellipse cx="372.5" cy="348" rx="1.8" ry="1.6" fill="#f0ecf8" filter="url(#bl)"/></g></svg>
<svg x="303.2" y="389.2" width="101.6" height="75.9" viewBox="0 0 101.6 75.9" overflow="hidden">
<rect width="101.6" height="75.9" fill="#fdf7fc"/>
<g transform="translate(-303.2,-389.2)">
<g filter="url(#bl2)">
<ellipse cx="332" cy="398" rx="14" ry="9" fill="#ebe0f4" transform="rotate(30 332 398)"/>
<ellipse cx="344" cy="416" rx="13" ry="10" fill="#e8ddf4" transform="rotate(0 344 416)"/>
<ellipse cx="356" cy="434" rx="16" ry="11" fill="#e8dcf2" transform="rotate(0 356 434)"/>
<ellipse cx="355" cy="453" rx="17" ry="11" fill="#e9def2" transform="rotate(0 355 453)"/>
</g>
<g filter="url(#bl)">
<ellipse cx="328" cy="393.8" rx="9.8" ry="5.8" fill="#d9cdee" stroke="#f6eef8" stroke-width="0.8" transform="rotate(10 328 393.8)"/>
<ellipse cx="337.6" cy="401.8" rx="9" ry="5.6" fill="#d9cdee" stroke="#f6eef8" stroke-width="0.8" transform="rotate(15 337.6 401.8)"/>
<ellipse cx="326.4" cy="409.6" rx="7.3" ry="7.2" fill="#d9cdee" stroke="#f6eef8" stroke-width="0.8" transform="rotate(0 326.4 409.6)"/>
<ellipse cx="348" cy="407.5" rx="5.4" ry="4.7" fill="#efd6ee" stroke="#f6eef8" stroke-width="0.8" transform="rotate(0 348 407.5)"/>
<ellipse cx="344.5" cy="412.8" rx="9" ry="5.2" fill="#d9cdee" stroke="#f6eef8" stroke-width="0.8" transform="rotate(0 344.5 412.8)"/>
<ellipse cx="339.8" cy="424.4" rx="6.8" ry="8" fill="#d9cdee" stroke="#f6eef8" stroke-width="0.8" transform="rotate(0 339.8 424.4)"/>
<ellipse cx="352.7" cy="429.5" rx="7.6" ry="7.2" fill="#d9cdee" stroke="#f6eef8" stroke-width="0.8" transform="rotate(0 352.7 429.5)"/>
<ellipse cx="369.2" cy="430" rx="9.3" ry="8.6" fill="#ecccec" stroke="#f6eef8" stroke-width="0.8" transform="rotate(0 369.2 430)"/>
<ellipse cx="345" cy="441.6" rx="8.4" ry="7.2" fill="#d9cdee" stroke="#f6eef8" stroke-width="0.8" transform="rotate(0 345 441.6)"/>
<ellipse cx="368.8" cy="444.7" rx="8.9" ry="6.8" fill="#d9cdee" stroke="#f6eef8" stroke-width="0.8" transform="rotate(0 368.8 444.7)"/>
<ellipse cx="357.5" cy="445" rx="4" ry="5" fill="#d6d2ee" stroke="#f6eef8" stroke-width="0.8" transform="rotate(0 357.5 445)"/>
<ellipse cx="342" cy="458.2" rx="7.2" ry="8" fill="#d9cdee" stroke="#f6eef8" stroke-width="0.8" transform="rotate(0 342 458.2)"/>
<ellipse cx="364.9" cy="458.5" rx="6.8" ry="6.8" fill="#d9cdee" stroke="#f6eef8" stroke-width="0.8" transform="rotate(0 364.9 458.5)"/>
</g><g filter="url(#bl)">
<ellipse cx="322.5" cy="392.8" rx="3.74" ry="3.52" fill="#a45ccc" transform="rotate(0 322.5 392.8)"/>
<ellipse cx="328" cy="394" rx="3.52" ry="3.08" fill="#a45ccc" transform="rotate(0 328 394)"/>
<ellipse cx="331" cy="390.3" rx="2.86" ry="1.76" fill="#a45ccc" transform="rotate(0 331 390.3)"/>
<ellipse cx="333.5" cy="401" rx="3.52" ry="3.19" fill="#a45ccc" transform="rotate(0 333.5 401)"/>
<ellipse cx="340.5" cy="402.7" rx="3.52" ry="3.19" fill="#a05ac8" transform="rotate(0 340.5 402.7)"/>
<ellipse cx="324.5" cy="406.5" rx="3.3" ry="2.86" fill="#a860d0" transform="rotate(0 324.5 406.5)"/>
<ellipse cx="323.8" cy="411" rx="3.08" ry="2.86" fill="#a860d0" transform="rotate(0 323.8 411)"/>
<ellipse cx="328.5" cy="412.8" rx="2.86" ry="2.53" fill="#a860d0" transform="rotate(0 328.5 412.8)"/>
<ellipse cx="340.6" cy="411.8" rx="3.41" ry="3.3" fill="#9a52c6" transform="rotate(0 340.6 411.8)"/>
<ellipse cx="349.3" cy="413.5" rx="4.29" ry="3.3" fill="#a45ccc" transform="rotate(0 349.3 413.5)"/>
<ellipse cx="342" cy="426" rx="4.84" ry="5.83" fill="#ac66d4" transform="rotate(0 342 426)"/>
<ellipse cx="350" cy="433" rx="3.52" ry="3.19" fill="#a45ccc" transform="rotate(0 350 433)"/>
<ellipse cx="356.3" cy="433.6" rx="3.52" ry="3.19" fill="#a45ccc" transform="rotate(0 356.3 433.6)"/>
<ellipse cx="368.4" cy="435.6" rx="6.27" ry="3.85" fill="#a45ccc" transform="rotate(0 368.4 435.6)"/>
<ellipse cx="344" cy="439.5" rx="3.08" ry="2.86" fill="#a860d0" transform="rotate(0 344 439.5)"/>
<ellipse cx="347.5" cy="443.5" rx="3.08" ry="3.08" fill="#a860d0" transform="rotate(0 347.5 443.5)"/>
<ellipse cx="343.5" cy="446" rx="2.64" ry="2.42" fill="#a860d0" transform="rotate(0 343.5 446)"/>
<ellipse cx="368.8" cy="444.7" rx="6.6" ry="5.28" fill="#a05ac8" transform="rotate(0 368.8 444.7)"/>
<ellipse cx="339.3" cy="456" rx="3.08" ry="3.08" fill="#a860d0" transform="rotate(0 339.3 456)"/>
<ellipse cx="344.3" cy="457.3" rx="3.08" ry="2.86" fill="#a860d0" transform="rotate(0 344.3 457.3)"/>
<ellipse cx="340.5" cy="461.5" rx="3.3" ry="2.86" fill="#a860d0" transform="rotate(0 340.5 461.5)"/>
<ellipse cx="345" cy="462" rx="2.53" ry="2.2" fill="#a860d0" transform="rotate(0 345 462)"/>
<ellipse cx="364.7" cy="458.6" rx="6.16" ry="6.6" fill="#9a52c6" transform="rotate(0 364.7 458.6)"/>
<ellipse cx="395.4" cy="433.8" rx="1.21" ry="2.2" fill="#b080d8" transform="rotate(0 395.4 433.8)"/>
</g><ellipse cx="354.3" cy="457.7" rx="4.9" ry="4.9" fill="#fbf5fb" filter="url(#bl)"/></g></svg>
<svg x="411.4" y="389.3" width="103.2" height="75.8" viewBox="0 0 103.2 75.8" overflow="hidden">
<rect width="103.2" height="75.8" fill="#fcfbf3"/>
<g transform="translate(-411.4,-389.3)">
<g filter="url(#bl2)">
<ellipse cx="462" cy="426" rx="22" ry="35" fill="#f3eff3" transform="rotate(0 462 426)"/>
<ellipse cx="463" cy="400" rx="20" ry="12" fill="#efe8f2" transform="rotate(0 463 400)"/>
</g>
<g filter="url(#bl)">
<ellipse cx="451.6" cy="401.9" rx="11" ry="11.5" fill="#e4d9f0" stroke="#f8f4f2" stroke-width="0.8" transform="rotate(0 451.6 401.9)"/>
<ellipse cx="470.6" cy="398.5" rx="9.3" ry="9" fill="#e6cfea" stroke="#f8f4f2" stroke-width="0.8" transform="rotate(0 470.6 398.5)"/>
<ellipse cx="481.5" cy="404.4" rx="7.2" ry="6.3" fill="#e9e1f1" stroke="#f8f4f2" stroke-width="0.8" transform="rotate(0 481.5 404.4)"/>
<ellipse cx="466.7" cy="411.4" rx="5.5" ry="4.8" fill="#d8d6f0" stroke="#f8f4f2" stroke-width="0.8" transform="rotate(0 466.7 411.4)"/>
<ellipse cx="449.4" cy="417.4" rx="12" ry="5.6" fill="#e9e1f1" stroke="#f8f4f2" stroke-width="0.8" transform="rotate(0 449.4 417.4)"/>
<ellipse cx="470.2" cy="418.2" rx="9" ry="6.2" fill="#f0ebf4" stroke="#f8f4f2" stroke-width="0.8" transform="rotate(0 470.2 418.2)"/>
<ellipse cx="449" cy="428.6" rx="11" ry="6.3" fill="#e9e1f1" stroke="#f8f4f2" stroke-width="0.8" transform="rotate(0 449 428.6)"/>
<ellipse cx="471" cy="430.4" rx="9.8" ry="8" fill="#eee8f3" stroke="#f8f4f2" stroke-width="0.8" transform="rotate(0 471 430.4)"/>
<ellipse cx="450.3" cy="444.2" rx="10.6" ry="7.3" fill="#e9e1f1" stroke="#f8f4f2" stroke-width="0.8" transform="rotate(0 450.3 444.2)"/>
<ellipse cx="471.5" cy="450.3" rx="9.3" ry="7.3" fill="#ede6f2" stroke="#f8f4f2" stroke-width="0.8" transform="rotate(0 471.5 450.3)"/>
<ellipse cx="457.6" cy="458.1" rx="7.5" ry="7" fill="#e9e1f1" stroke="#f8f4f2" stroke-width="0.8" transform="rotate(0 457.6 458.1)"/>
</g><g filter="url(#bl)">
<ellipse cx="447.5" cy="398.3" rx="4.32" ry="4.21" fill="#b468cc" transform="rotate(0 447.5 398.3)"/>
<ellipse cx="455.3" cy="398.8" rx="3.78" ry="3.67" fill="#b468cc" transform="rotate(0 455.3 398.8)"/>
<ellipse cx="449.3" cy="405.3" rx="4.32" ry="3.78" fill="#b468cc" transform="rotate(0 449.3 405.3)"/>
<ellipse cx="455" cy="405.8" rx="3.24" ry="3.13" fill="#b468cc" transform="rotate(0 455 405.8)"/>
<ellipse cx="451.5" cy="402" rx="3.46" ry="3.24" fill="#b878cc" transform="rotate(0 451.5 402)"/>
<ellipse cx="470.6" cy="395.3" rx="8.1" ry="4.54" fill="#d29ad8" transform="rotate(0 470.6 395.3)"/>
<ellipse cx="469.4" cy="403.5" rx="6.48" ry="3.89" fill="#9a4ec4" transform="rotate(0 469.4 403.5)"/>
<ellipse cx="481.5" cy="404.4" rx="6.48" ry="5.4" fill="#b468cc" transform="rotate(0 481.5 404.4)"/>
<ellipse cx="451.1" cy="417.4" rx="10.26" ry="4.64" fill="#c280d0" transform="rotate(0 451.1 417.4)"/>
<ellipse cx="450.3" cy="429.5" rx="8.42" ry="3.89" fill="#ac60cc" transform="rotate(0 450.3 429.5)"/>
<ellipse cx="467.5" cy="427" rx="2.38" ry="4.1" fill="#d28cd6" transform="rotate(20 467.5 427)"/>
<ellipse cx="472.5" cy="429" rx="2.48" ry="3.78" fill="#d28cd6" transform="rotate(20 472.5 429)"/>
<ellipse cx="478" cy="433" rx="3.24" ry="4.32" fill="#cc88d4" transform="rotate(0 478 433)"/>
<ellipse cx="449" cy="442" rx="3.78" ry="3.78" fill="#a85cc8" transform="rotate(0 449 442)"/>
<ellipse cx="454.5" cy="446.5" rx="3.78" ry="3.24" fill="#a85cc8" transform="rotate(0 454.5 446.5)"/>
<ellipse cx="451" cy="448" rx="2.7" ry="2.7" fill="#a85cc8" transform="rotate(0 451 448)"/>
<ellipse cx="467" cy="452" rx="3.24" ry="3.24" fill="#b064cc" transform="rotate(0 467 452)"/>
<ellipse cx="474.5" cy="449" rx="3.78" ry="3.78" fill="#b064cc" transform="rotate(0 474.5 449)"/>
<ellipse cx="472" cy="455" rx="3.24" ry="2.7" fill="#b064cc" transform="rotate(0 472 455)"/>
<ellipse cx="459" cy="459" rx="4.64" ry="5.62" fill="#9848c0" transform="rotate(0 459 459)"/>
</g></g></svg>
<rect x="0.5" y="0.5" width="519" height="488" fill="none" stroke="#000" stroke-width="1.2"/>
</svg></body></html>
